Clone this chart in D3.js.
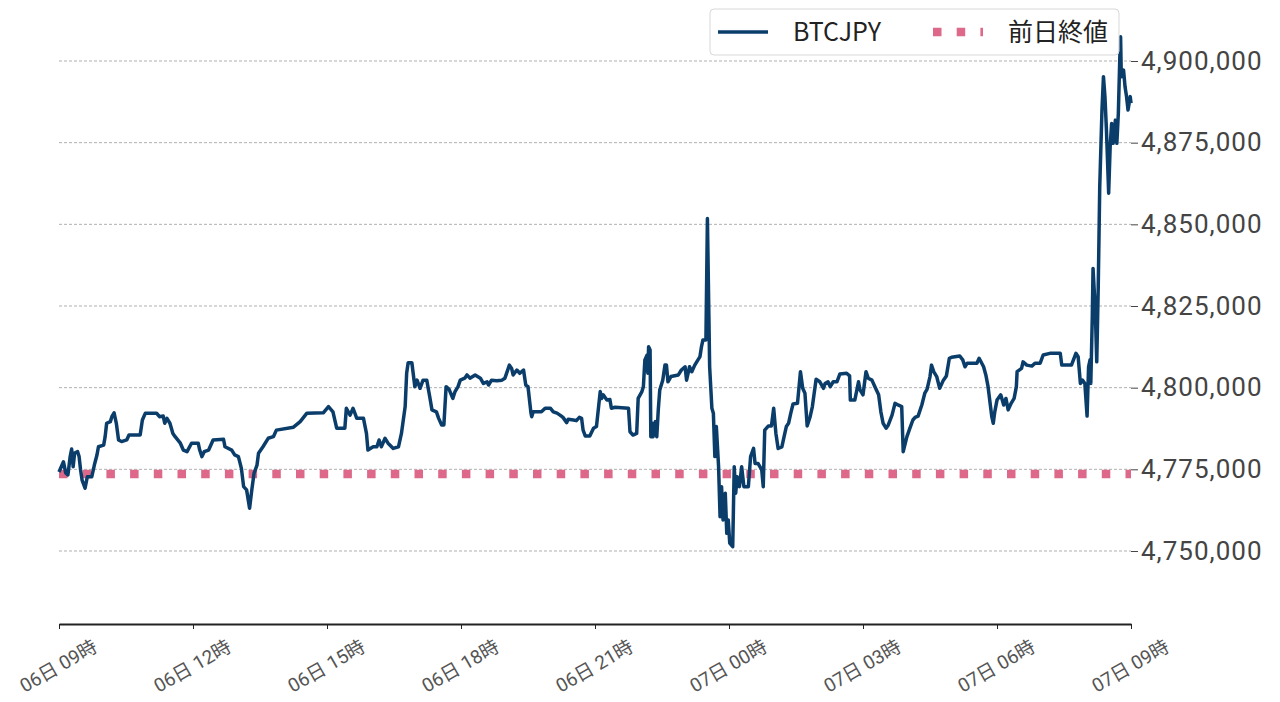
<!DOCTYPE html>
<html>
<head>
<meta charset="utf-8">
<script src="https://cdn.jsdelivr.net/npm/d3@7"></script>
<style>
  html, body { margin: 0; padding: 0; background: #fff; }
  svg { display: block; }
  text { font-family: "Noto Sans CJK JP", "Noto Sans", sans-serif; }
</style>
</head>
<body>
<svg id="chart" width="1280" height="702"></svg>
<script>
// minutes after 06日 09:00
const minutes = [
  0,6,9,12,15,17,19,21,25,27,29,31,35,38,44,48,51,53,60,62,64,69,71,74,77,80,84,91,94,109,
  112,116,131,135,140,142,145,149,153,156,163,167,172,178,187,189,192,195,201,207,221,223,232,236,241,245,248,252,256,259,
  262,266,268,274,281,
  288,292,315,324,333,355,362,368,373,384,386,391,395,400,409,413,415,422,427,430,433,438,442,449,456,460,465,467,469,474,
  478,481,485,
  489,494,498,501,507,510,514,517,520,524,529,532,536,539,545,548,552,559,566,570,575,577,581,588,595,599,605,608,610,615,
  619,624,627,630,634,635,637,648,653,660,664,669,673,677,682,684,691,695,699,702,704,707,713,718,722,727,729,731,736,740,
  742,747,765,767,771,776,778,783,785,787,790,791,792,794,795,797,798,801,803,805,807,811,814,816,818,822,832,836,841,843,
  847,850,854,861,
  863,865,869,871,873,874,877,879,881,883,886,888,890,892,895,897,899,901,905,907,909,911,914,917,920,926,929,933,935,939,
  944,946,948,953,957,960,963,966,971,974,977,980,983,986,992,996,999,1002,1005,1009,1012,1017,1022,1027,1029,1033,1036,1040,1045,1049,
  1058,1062,1063,1069,1074,1076,1080,1084,1087,1092,1096,1101,1104,1107,1111,1114,1119,1123,1127,1132,
  1134,1139,1143,1147,1150,1154,1159,1163,1166,1170,1172,1175,1179,1183,1188,1192,1196,1199,1210,1214,
  1217,1220,1233,1236,1242,1245,1248,1253,1255,1257,1260,1265,1269,1272,1275,1279,1283,1286,1287,1293,
  1295,1300,1307,1311,1318,1322,1331,1345,1347,1360,1366,1369,1372,1375,1378,1381,1383,1385,1386,1388,
  1389,1392,1394,1396,1398,1401,1403,1405,1407,1410,1412,1414,1416,1419,1421,1423,1425,1426,1427,1430,
  1432,1434,1436,1439,1440
];

const prices = [
  4774200,4777300,4773900,4773300,4778900,4781200,4775800,4780000,4780400,4778900,
  4774800,4771700,4769200,4772700,4772700,4776800,4779400,4781900,4782400,4785000,
  4789100,4789600,4791100,4792300,4789100,4784000,4783500,4784000,4785500,4785500,
  4790100,4792200,4792200,4791100,4791300,4789100,4790600,4789100,4786000,4785000,
  4783000,4780900,4780400,4783000,4783000,4780900,4778900,4780400,4780900,4784000,
  4784200,4781900,4780900,4779400,4778900,4775300,4769700,4768700,4763100,4768700,
  4773800,4776300,4779900,4781900,4784500,
  4785000,4787000,4787900,4789600,4792200,4792300,4794200,4792600,4787600,4787600,
  4793700,4791600,4793700,4790600,4790600,4786000,4780900,4781900,4781900,4784000,
  4781900,4784500,4783000,4781400,4781900,4786000,4794200,4804400,4807600,4807600,
  4800300,4802300,4799800,
  4802300,4802300,4797200,4793200,4792600,4790600,4788600,4788600,4800300,4799500,
  4796700,4798800,4800300,4802300,4802900,4803900,4802900,4803900,4802900,4801300,
  4801800,4800800,4802300,4802100,4802300,4802900,4806900,4805900,4803900,4805400,
  4804400,4805400,4800800,4800300,4792200,4791100,4792600,4792600,4793700,4793700,
  4792600,4792200,4791600,4790900,4789300,4790300,4790100,4789900,4790900,4790600,
  4787000,4785200,4785200,4787600,4788100,4798800,4796700,4797800,4796200,4796400,
  4793700,4794000,4793700,4786500,4785500,4786000,4796700,4798800,4800300,4808500,
  4810000,4804400,4812500,4811500,4785000,4789100,4785000,4789600,4785000,4793200,
  4799300,4802300,4806900,4806900,4801800,4803400,4803900,4805400,4806400,4802300,
  4806400,4804900,4806900,4809500,
  4812500,4814600,4814600,4851800,4821700,4806400,4793700,4792200,4778900,4788100,
  4775800,4760500,4769700,4759500,4767700,4755400,4759500,4752400,4751300,4775800,
  4767700,4772700,4769700,4775800,4769700,4769700,4778900,4781400,4776800,4776800,
  4774800,4769700,4787000,4788300,4788300,4793700,4786000,4781400,4781900,4785000,
  4788100,4789100,4792200,4795000,4795200,4804900,4799800,4798300,4788300,4791100,
  4794200,4802600,4801800,4799800,4801300,4801800,4800300,4801800,4801800,4804200,
  4804400,4803600,4796200,4796200,4801800,4799300,4797800,4804900,4802900,4802300,
  4800300,4797800,4792600,4789100,4787600,4788600,4791600,4795200,4794700,4794200,
  4780400,4785000,4787600,4790100,4790900,4791300,4794700,4798300,4799500,4803400,
  4806900,4804900,4803400,4799800,4802300,4803600,4809000,4809300,4809700,4808500,
  4806400,4807500,4807500,4809000,4806400,4803900,4800300,4791100,4789100,4792600,
  4796200,4797800,4794700,4796700,4793200,4795200,4796700,4800300,4804900,4805900,
  4807900,4806900,4806600,4807500,4807500,4810000,4810500,4810500,4806900,4806900,
  4810500,4809500,4801300,4802300,4801300,4791300,4806400,4808500,4801300,4821700,
  4836500,4823800,4807900,4830900,4861500,4885000,4895200,4889100,4878900,4859500,
  4873800,4880900,4874800,4881900,4874800,4884000,4901300,4907400,4895200,4897200,
  4892100,4889100,4885000,4889100,4887100
];

const prevClose = 4773600;
const yTicks = [4750000, 4775000, 4800000, 4825000, 4850000, 4875000, 4900000];
const seriesNames = ["BTCJPY", "前日終値"];

const start = new Date(2021, 0, 6, 9, 0);
const end = new Date(2021, 0, 7, 9, 0);
const data = minutes.map((m, i) => ({ t: d3.timeMinute.offset(start, m), v: prices[i] }));

const lineColor = "#0b3d6b";
const closeColor = "#de6889";
const tickFont = "Roboto, 'Noto Sans CJK JP', sans-serif";

const margin = { top: 12, right: 149, bottom: 78, left: 59 };
const width = 1280, height = 702;
const svg = d3.select("#chart");

const x = d3.scaleTime()
  .domain([start, end])
  .range([margin.left, width - margin.right]);

const y = d3.scaleLinear()
  .domain([4727650, 4915000])
  .range([height - margin.bottom, margin.top]);

// grid
svg.append("g")
  .selectAll("line")
  .data(yTicks)
  .enter()
  .append("line")
  .attr("x1", margin.left)
  .attr("x2", width - margin.right)
  .attr("y1", d => y(d))
  .attr("y2", d => y(d))
  .attr("stroke", "#b0b0b0")
  .attr("stroke-width", 1)
  .attr("stroke-dasharray", "3,2");

// right y axis
const yAxis = svg.append("g")
  .attr("transform", "translate(" + (width - margin.right) + ",0)")
  .call(d3.axisRight(y).tickValues(yTicks).tickFormat(d3.format(",")).tickSize(7).tickPadding(3));
yAxis.select(".domain").remove();
yAxis.selectAll(".tick line").attr("stroke", "#444");
yAxis.selectAll(".tick text")
  .attr("fill", "#444")
  .style("font-size", "26px")
  .style("letter-spacing", "1px")
  .style("font-family", tickFont);

// bottom x axis
const xAxis = svg.append("g")
  .attr("transform", "translate(0," + (height - margin.bottom) + ")")
  .call(d3.axisBottom(x)
    .ticks(d3.timeHour.every(3))
    .tickFormat(d3.timeFormat("%d日 %H時"))
    .tickSize(5)
    .tickSizeOuter(0));
xAxis.select(".domain").attr("stroke", "#222").attr("stroke-width", 2);
xAxis.selectAll(".tick line").attr("stroke", "#222");
xAxis.selectAll(".tick text")
  .attr("fill", "#555")
  .attr("y", 0)
  .attr("dy", "0.35em")
  .attr("text-anchor", "middle")
  .attr("transform", "translate(-1,42) rotate(-30)")
  .style("font-size", "19px")
  .style("font-family", tickFont);

// previous close
svg.append("line")
  .attr("x1", x(start))
  .attr("x2", x(end))
  .attr("y1", y(prevClose))
  .attr("y2", y(prevClose))
  .attr("stroke", closeColor)
  .attr("stroke-width", 8.5)
  .attr("stroke-dasharray", "8.5,15.2");

// price line
const line = d3.line()
  .x(d => x(d.t))
  .y(d => y(d.v));

svg.append("path")
  .datum(data)
  .attr("fill", "none")
  .attr("stroke", lineColor)
  .attr("stroke-width", 3.5)
  .attr("stroke-linejoin", "round")
  .attr("d", line);

// legend
const legend = svg.append("g");
legend.append("rect")
  .attr("x", 710).attr("y", 9)
  .attr("width", 409).attr("height", 46)
  .attr("rx", 4)
  .attr("fill", "#fff").attr("fill-opacity", 0.8)
  .attr("stroke", "#d8d8d8");
legend.append("line")
  .attr("x1", 718).attr("x2", 768)
  .attr("y1", 32).attr("y2", 32)
  .attr("stroke", lineColor).attr("stroke-width", 3.5);
legend.append("line")
  .attr("x1", 933).attr("x2", 983)
  .attr("y1", 32).attr("y2", 32)
  .attr("stroke", closeColor).attr("stroke-width", 8.5)
  .attr("stroke-dasharray", "8.5,15.2");
legend.selectAll("text.lbl")
  .data(seriesNames)
  .enter()
  .append("text")
  .attr("class", "lbl")
  .attr("x", (d, i) => i === 0 ? 793 : 1008)
  .attr("y", 32)
  .attr("dy", "0.35em")
  .attr("fill", "#222")
  .style("font-size", "25px")
  .text(d => d);
</script>
</body>
</html>
